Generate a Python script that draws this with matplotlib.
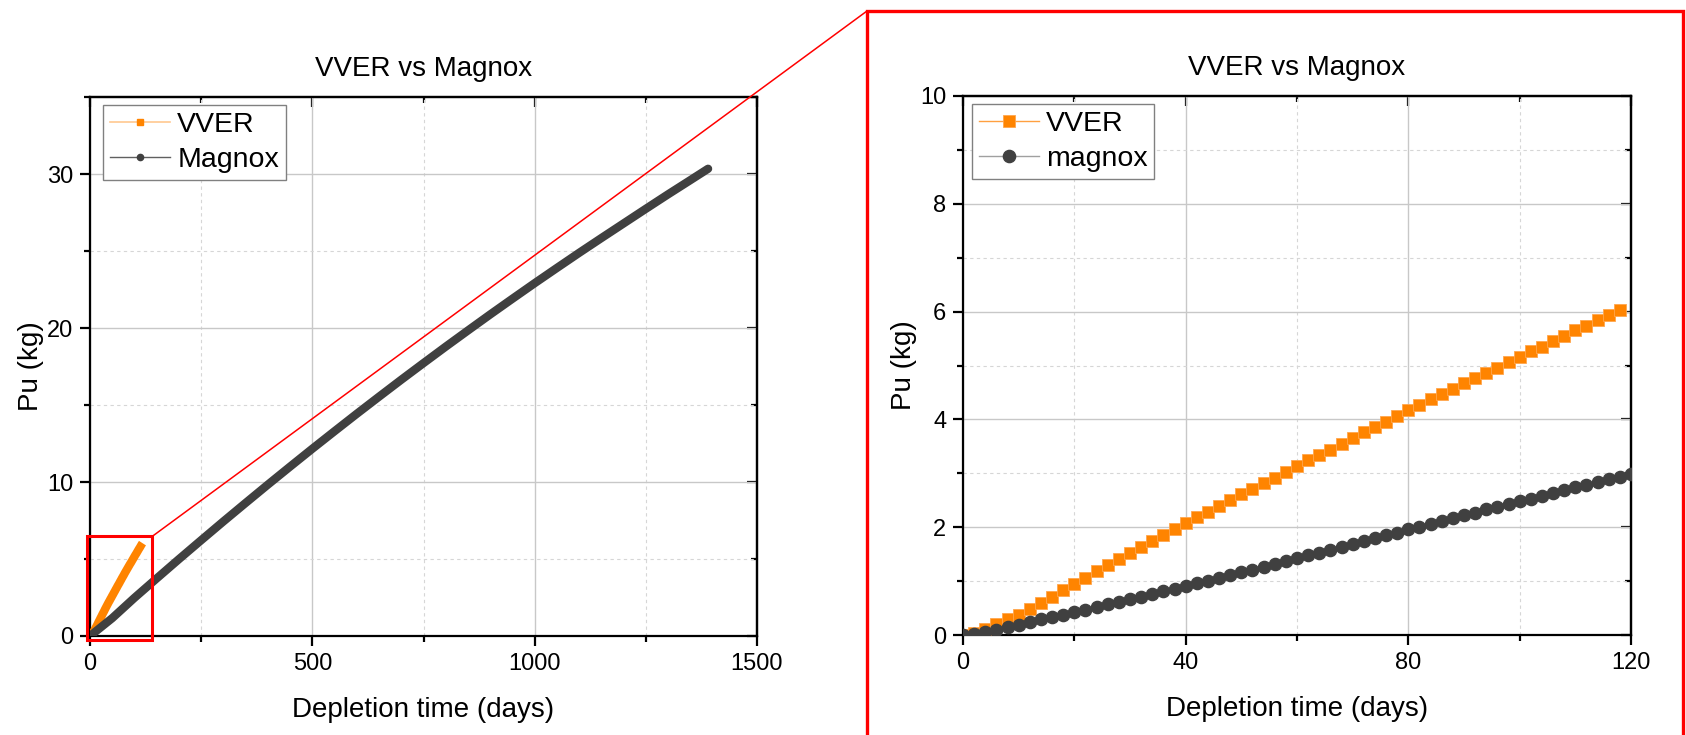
import matplotlib.pyplot as plt
from matplotlib.lines import Line2D
from matplotlib.patches import Rectangle, ConnectionPatch
from matplotlib.ticker import MultipleLocator

plt.rcParams['font.family'] = ['Liberation Sans', 'DejaVu Sans']

# VVER, one point every 2 days
vver_days = list(range(0, 120, 2))
vver_pu = [0.00, 0.04, 0.11, 0.20, 0.29, 0.38, 0.49, 0.60, 0.71, 0.83,
           0.95, 1.06, 1.18, 1.29, 1.41, 1.52, 1.63, 1.75, 1.86, 1.97,
           2.08, 2.19, 2.29, 2.40, 2.50, 2.61, 2.71, 2.82, 2.92, 3.03,
           3.13, 3.24, 3.34, 3.44, 3.55, 3.65, 3.76, 3.86, 3.96, 4.07,
           4.17, 4.27, 4.37, 4.47, 4.57, 4.67, 4.76, 4.86, 4.96, 5.06,
           5.16, 5.26, 5.35, 5.45, 5.55, 5.65, 5.74, 5.84, 5.94, 6.03]

# magnox, first 120 days (zoomed panel)
magnox_days = list(range(0, 122, 2))
magnox_pu = [0.00, 0.02, 0.05, 0.09, 0.14, 0.19, 0.24, 0.29, 0.33, 0.38,
             0.43, 0.47, 0.52, 0.57, 0.62, 0.66, 0.71, 0.76, 0.81, 0.86,
             0.91, 0.96, 1.01, 1.06, 1.11, 1.16, 1.21, 1.27, 1.32, 1.37,
             1.42, 1.48, 1.53, 1.58, 1.64, 1.69, 1.74, 1.80, 1.85, 1.90,
             1.96, 2.01, 2.06, 2.12, 2.17, 2.22, 2.27, 2.33, 2.38, 2.43,
             2.48, 2.53, 2.58, 2.64, 2.69, 2.74, 2.79, 2.84, 2.89, 2.94,
             2.99]

# magnox, whole run (overview panel)
magnox_long_days = [0, 50, 100, 150, 200, 250, 300, 350, 400, 450, 500,
                    550, 600, 650, 700, 750, 800, 850, 900, 950, 1000,
                    1050, 1100, 1150, 1200, 1250, 1300, 1350, 1390]
magnox_long_pu = [0.0, 1.16, 2.48, 3.74, 4.99, 6.22, 7.44, 8.64, 9.83, 11.00,
                  12.16, 13.30, 14.43, 15.54, 16.64, 17.72, 18.79, 19.84,
                  20.88, 21.90, 22.91, 23.90, 24.88, 25.84, 26.79, 27.74,
                  28.68, 29.60, 30.34]

ORANGE = '#ff8400'
DARK = '#404040'
W, H = 1686, 735


def style(ax, xlim, ylim, xmaj, xmin, ymaj, ymin):
    ax.set_xlim(*xlim)
    ax.set_ylim(*ylim)
    ax.xaxis.set_major_locator(MultipleLocator(xmaj))
    ax.xaxis.set_minor_locator(MultipleLocator(xmin))
    ax.yaxis.set_major_locator(MultipleLocator(ymaj))
    ax.yaxis.set_minor_locator(MultipleLocator(ymin))
    ax.grid(which='major', color='#c8c8c8', lw=1.0)
    ax.grid(which='minor', color='#d6d6d6', lw=0.8, ls=(0, (3, 3)))
    ax.set_axisbelow(True)
    for s in ax.spines.values():
        s.set_linewidth(1.6)
    ax.tick_params(which='both', direction='out', labelsize=17, width=1.6, pad=5)
    ax.tick_params(which='major', length=7)
    ax.tick_params(which='minor', length=4)
    # inward ticks on the top / right frame
    top = ax.secondary_xaxis('top')
    right = ax.secondary_yaxis('right')
    for sec, axis, m1, m2 in [(top, top.xaxis, xmaj, xmin), (right, right.yaxis, ymaj, ymin)]:
        axis.set_major_locator(MultipleLocator(m1))
        axis.set_minor_locator(MultipleLocator(m2))
        sec.tick_params(which='both', direction='in', width=1.6,
                        labeltop=False, labelright=False)
        sec.tick_params(which='major', length=7)
        sec.tick_params(which='minor', length=4)
        for s in sec.spines.values():
            s.set_linewidth(1.6)
    ax.set_title('VVER vs Magnox', fontsize=20, pad=15)
    ax.set_xlabel('Depletion time (days)', fontsize=20, labelpad=16)
    ax.set_ylabel('Pu (kg)', fontsize=20, labelpad=2)


fig = plt.figure(figsize=(W / 100, H / 100), dpi=100)
ax1 = fig.add_axes([90 / W, 1 - 636 / H, 667 / W, 539 / H])
ax2 = fig.add_axes([963 / W, 1 - 635 / H, 668 / W, 539 / H])

leg_kw = dict(loc='upper left', fontsize=20.5, frameon=True, fancybox=False,
              edgecolor='#808080', framealpha=1, borderaxespad=0,
              handlelength=2.1, handletextpad=0.25, borderpad=0.25,
              labelspacing=0.3)

# overview
style(ax1, (0, 1500), (0, 35), 500, 250, 10, 5)
ax1.plot(vver_days, vver_pu, color=ORANGE, lw=6, solid_capstyle='butt', zorder=3)
ax1.plot(magnox_long_days, magnox_long_pu, color=DARK, lw=6,
         solid_capstyle='round', solid_joinstyle='round', zorder=3)
h1 = [Line2D([], [], color='#ffc890', lw=1.2, marker='s', ms=4.5, mfc=ORANGE, mec=ORANGE),
      Line2D([], [], color='#606060', lw=1.0, marker='o', ms=4.5, mfc=DARK, mec=DARK)]
ax1.legend(h1, ['VVER', 'Magnox'], bbox_to_anchor=(0.02, 0.985), **leg_kw)

# zoom on first 120 days
style(ax2, (0, 120), (0, 10), 40, 20, 2, 1)
ax2.plot(vver_days, vver_pu, color='#ffa040', lw=1, marker='s', ms=8.3,
         mfc=ORANGE, mec='#ffa64d', mew=0.6, zorder=3, label='VVER')
ax2.plot(magnox_days, magnox_pu, color='#a0a0a0', lw=1, marker='o', ms=8.8,
         mfc=DARK, mec=DARK, zorder=3, label='magnox')
ax2.legend(bbox_to_anchor=(0.013, 0.985), **leg_kw)

# zoom frame and connectors
ax1.add_patch(Rectangle((-7.6, -0.23), 147.6, 6.7, fill=False, ec='red',
                        lw=2.2, clip_on=False, zorder=10))
fig.add_artist(Rectangle((867 / W, 1 - 740 / H), (1683 - 867) / W, (740 - 11) / H,
                         transform=fig.transFigure, fill=False, ec='red', lw=2.4))
for ya, yb in [(6.47, 1 - 11 / H), (-0.23, 1 - 740 / H)]:
    fig.add_artist(ConnectionPatch(xyA=(140, ya), coordsA='data', axesA=ax1,
                                   xyB=(867 / W, yb), coordsB='figure fraction',
                                   color='red', lw=1.1, zorder=10))

fig.savefig('out.png', dpi=100)
